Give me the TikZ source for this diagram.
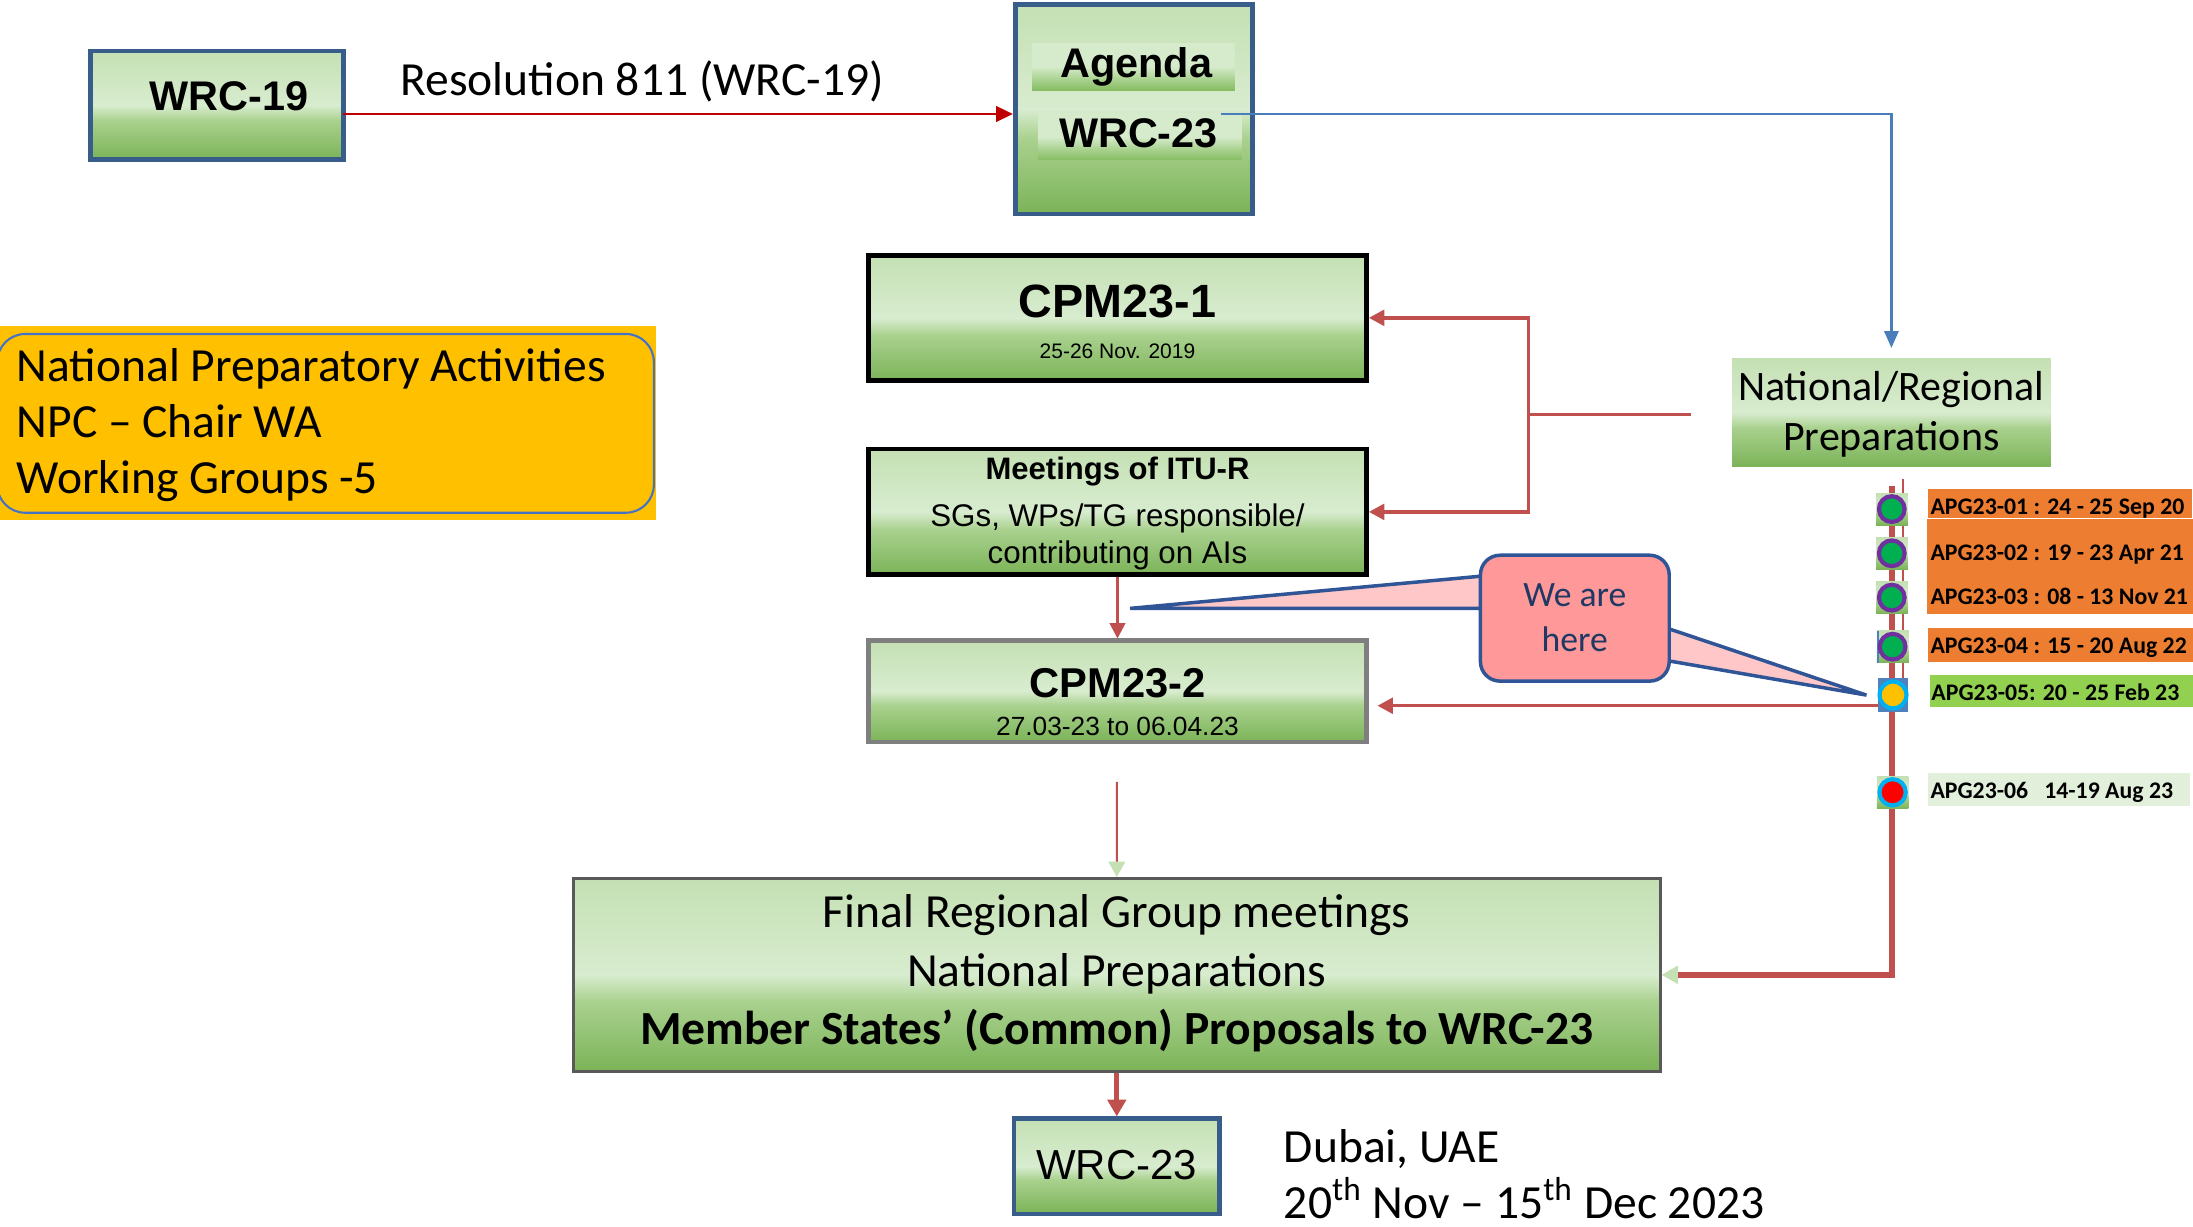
\documentclass[tikz,border=0pt]{standalone}
\usepackage{fontspec}
\setmainfont{Carlito}
\newfontfamily\arial{Liberation Sans}
\usetikzlibrary{arrows.meta,fit}
\newcommand{\myfs}[1]{\fontsize{#1pt}{#1pt}\selectfont}

\definecolor{gtop}{HTML}{C4E0B3}
\definecolor{gmid}{HTML}{D8ECCF}
\definecolor{glow}{HTML}{A9D18E}
\definecolor{gbot}{HTML}{7BB357}
\definecolor{btop}{HTML}{D5EBCB}
\definecolor{bbot}{HTML}{86BD62}
\definecolor{bmid}{HTML}{A7D08C}
\definecolor{redc}{HTML}{C0504D}
\definecolor{resred}{HTML}{C00000}
\definecolor{bluel}{HTML}{4A7EBB}
\definecolor{navy}{HTML}{385D8A}
\definecolor{grayb}{HTML}{7F7F7F}
\definecolor{darkg}{HTML}{595959}
\definecolor{npay}{HTML}{FFC000}
\definecolor{npab}{HTML}{4472C4}
\definecolor{apgor}{HTML}{ED7D31}
\definecolor{apggr}{HTML}{92D050}
\definecolor{apgpl}{HTML}{E2EFDA}
\definecolor{pinkb}{HTML}{FF9999}
\definecolor{pinkw}{HTML}{FFC7C7}
\definecolor{callb}{HTML}{2F5597}
\definecolor{calltxt}{HTML}{1F3864}
\definecolor{palegr}{HTML}{C5E0B4}
\definecolor{ringp}{HTML}{7030A0}
\definecolor{dotg}{HTML}{00B050}
\definecolor{ringc}{HTML}{00B0F0}
\definecolor{dotred}{HTML}{FF0000}
\definecolor{sqblue}{HTML}{4F81BD}
\definecolor{dotyel}{HTML}{FFC000}

\pgfdeclareverticalshading{boxgreen}{100bp}{color(0bp)=(gbot); color(25bp)=(gbot); color(43bp)=(glow); color(50bp)=(gmid); color(75bp)=(gtop); color(100bp)=(gtop)}
\pgfdeclareverticalshading{bandgreen}{100bp}{color(0bp)=(bbot); color(25bp)=(bbot); color(36bp)=(bmid); color(50bp)=(btop); color(75bp)=(btop); color(100bp)=(btop)}

\tikzset{
  gbox/.style={rectangle, shading=boxgreen, inner sep=0pt},
  band/.style={rectangle, shading=bandgreen, inner sep=0pt},
  txt/.style={anchor=base, inner sep=0pt, outer sep=0pt},
  ar/.style={font={\arial\myfs{#1}}},
  arb/.style={font={\arial\bfseries\myfs{#1}}},
  cal/.style={font={\myfs{#1}}},
  calb/.style={font={\bfseries\myfs{#1}}},
  rline/.style={draw=redc, line width=1.2pt},
  rtip/.style={-{Triangle[length=5.5pt,width=5.6pt]}},
  apglbl/.style={txt, anchor=base west, calb=8.5},
  ring/.style={line width=1.5pt},
}

\begin{document}
\begin{tikzpicture}[x=0.5pt,y=-0.5pt]
\useasboundingbox (0,0) rectangle (1568,877);

% National preparatory activities
\fill[npay] (0,233) rectangle (469,371.8);
\node[rectangle, draw=npab, line width=0.75pt, rounded corners=10pt, inner sep=0pt, fit={(-2,238.8)(467.5,366.6)}] (npa) {};
\node[txt, anchor=base west, cal=17] (npa1) at (12,273) {National Preparatory Activities};
\node[txt, anchor=base west, cal=17] (npa2) at (12,313) {NPC – Chair WA};
\node[txt, anchor=base west, cal=17] (npa3) at (12,353) {Working Groups -5};

% WRC-19
\node[gbox, draw=navy, line width=1.75pt, fit={(65,36.5)(245.5,114)}] (wrc19) {};
\node[txt, anchor=base west, arb=14.8] (wrc19t) at (107,79) {WRC-19};

% Agenda
\node[gbox, draw=navy, line width=1.75pt, fit={(726,3)(895.5,153)}] (agenda) {};
\node[band, fit={(738,31)(883,64.4)}] (agband) {};
\node[band, fit={(742,81.5)(887.5,114.4)}] (wrband) {};
\node[txt, arb=14.8] (agt) at (812.5,55.3) {Agenda};
\node[txt, arb=14.8] (wrt) at (814,105.3) {WRC-23};

% Resolution arrow
\coordinate (ra) at (245,81.5);
\draw[draw=resred, line width=0.95pt, -{Triangle[length=6pt,width=5.5pt]}] (ra) -- (agenda.west |- ra);
\node[txt, anchor=base west, cal=17] (res) at (286.4,68) {Resolution 811 (WRC-19)};

% National/Regional
\node[gbox, fit={(1238.5,256.2)(1466.2,333.7)}] (natreg) {};
\node[txt, cal=15] (nr1) at (1352.3,286.5) {National/Regional};
\node[txt, cal=15] (nr2) at (1352.3,322.2) {Preparations};

% blue line
\coordinate (bl) at (873,81.5);
\draw[draw=bluel, line width=1pt, -{Triangle[length=6pt,width=5pt]}, shorten >=3.5pt] (bl) -| (natreg.north);

% CPM23-1
\node[gbox, draw=black, line width=1.75pt, fit={(621,182.5)(977,272)}] (cpm1) {};
\node[txt, arb=16.7] (cpm1t) at (799,226.9) {CPM23-1};
\node[txt, ar=7.5] (cpm1d) at (799,256.2) {25-26 Nov. 2019};

% Meetings
\node[gbox, draw=black, line width=1.75pt, fit={(621,321)(977,411)}] (meet) {};
\node[txt, arb=11.1] (meet1) at (799,342.7) {Meetings of ITU-R};
\node[txt, ar=11.2] (meet2) at (799,376.6) {SGs, WPs/TG responsible/};
\node[txt, ar=11.2] (meet3) at (799,402.8) {contributing on AIs};

% CPM23-2
\node[gbox, draw=grayb, line width=1.5pt, fit={(621,458)(977,530.5)}] (cpm2) {};
\node[txt, arb=14.9] (cpm2t) at (799,498.6) {CPM23-2};
\node[txt, ar=9.4] (cpm2d) at (799,526.2) {27.03-23 to 06.04.23};

% Final
\node[gbox, draw=darkg, line width=1pt, fit={(410,628)(1187,766)}] (final) {};
\node[txt, cal=17] (fin1) at (798.5,663.3) {Final Regional Group meetings};
\node[txt, cal=17] (fin2) at (798.5,705) {National Preparations};
\node[txt, calb=17] (fin3) at (798.5,746.5) {Member States’ (Common) Proposals to WRC-23};

% WRC-23 bottom
\node[gbox, draw=navy, line width=1.75pt, fit={(725,800)(872,868)}] (wrcb) {};
\node[txt, ar=15] (wrcbt) at (798.5,843.2) {WRC-23};
\node[txt, anchor=base west, cal=17] (dub1) at (918,831.3) {Dubai, UAE};
\node[txt, anchor=base west, cal=17] (dub2) at (918,871) {20\textsuperscript{th} Nov – 15\textsuperscript{th} Dec 2023};

% red connectors
\coordinate (jr) at (1209,296.2);
\coordinate (jn) at (1093,296.2);
\draw[rline] (jr) -- (jn);
\draw[rline, rtip] (jn) |- (cpm1.east);
\draw[rline, rtip] (jn) |- (meet.east);
\draw[draw=redc, line width=0.8pt, rtip] (meet.south) -- (cpm2.north);
\coordinate (m5) at (1352.6,504.6);
\draw[rline, rtip, shorten >=3.2pt] (m5) -- (cpm2.east |- m5);
\coordinate (c2b) at (798.6,559);
\draw[draw=redc, line width=0.7pt, -{Triangle[length=5.5pt,width=6pt,color=palegr]}] (c2b) -- (final.north);
\draw[draw=redc, line width=1.75pt, -{Triangle[length=6pt,width=6.5pt]}] (final.south) -- (wrcb.north);

% timeline
\coordinate (thin1) at (1360.5,342.6);
\coordinate (thin2) at (1360.5,493);
\draw[draw=redc, line width=0.6pt] (thin1) -- (thin2);
\coordinate (tltop) at (1352.6,347.6);
\draw[draw=redc, line width=2.2pt, -{Triangle[length=5.8pt,width=6.2pt,color=palegr]}] (tltop) |- (final.east);

% callout
\draw[draw=callb, line width=1.25pt, fill=pinkw, line join=miter] (1058.5,412) -- (808,435) -- (1058.5,435);
\draw[draw=callb, line width=1.25pt, fill=pinkw, line join=miter] (1193.5,449.7) -- (1334.5,497) -- (1193.5,472.6);
\node[rectangle, draw=callb, line width=1.25pt, fill=pinkb, rounded corners=7pt, inner sep=0pt, fit={(1058.5,397)(1193.5,487)}] (here) {};
\node[txt, cal=12.75, text=calltxt] (here1) at (1126,433.8) {We are};
\node[txt, cal=12.75, text=calltxt] (here2) at (1126,466) {here};

% markers
\shade[shading=boxgreen] (1341.4,352.7) rectangle (1364.2,375.4);
\shade[shading=boxgreen] (1341.4,384.3) rectangle (1364.2,407);
\shade[shading=boxgreen] (1341.4,416) rectangle (1364.2,438.7);
\shade[shading=boxgreen] (1341.9,451) rectangle (1364.8,473.8);
\fill[sqblue] (1341.9,451) rectangle (1343.4,473.8);
\fill[sqblue] (1342.5,485) rectangle (1364.5,508.8);
\shade[shading=boxgreen] (1341.9,555.3) rectangle (1364.5,578.4);
\draw[ring, draw=ringp, fill=dotg] (1352.6,364) circle[radius=4.6pt];
\draw[ring, draw=ringp, fill=dotg] (1352.6,395.6) circle[radius=4.6pt];
\draw[ring, draw=ringp, fill=dotg] (1352.6,427.3) circle[radius=4.6pt];
\draw[ring, draw=ringp, fill=dotg] (1353.2,462.4) circle[radius=4.6pt];
\draw[ring, draw=ringc, fill=dotyel] (1353.5,496.9) circle[radius=4.8pt];
\draw[ring, draw=ringc, fill=dotred] (1353.2,566.5) circle[radius=4.7pt];

% APG labels
\fill[apgor] (1378.5,349.9) rectangle (1567.5,370.6);
\fill[apgor] (1377.5,371) rectangle (1568,438.8);
\fill[apgor] (1378.5,448.8) rectangle (1568,473.6);
\fill[apggr] (1379.6,482.6) rectangle (1568,505.3);
\fill[apgpl] (1378.5,553) rectangle (1565.5,576.5);
\node[apglbl] (apg1) at (1380.3,368.2) {APG23-01 : 24 - 25 Sep 20};
\node[apglbl] (apg2) at (1380.3,400.4) {APG23-02 : 19 - 23 Apr 21};
\node[apglbl] (apg3) at (1380.3,432.1) {APG23-03 : 08 - 13 Nov 21};
\node[apglbl] (apg4) at (1380.3,467.1) {APG23-04 : 15 - 20 Aug 22};
\node[apglbl] (apg5) at (1381,500.5) {APG23-05: 20 - 25 Feb 23};
\node[apglbl] (apg6) at (1380.3,570.8) {APG23-06\ \ \ 14-19 Aug 23};
\end{tikzpicture}
\end{document}
